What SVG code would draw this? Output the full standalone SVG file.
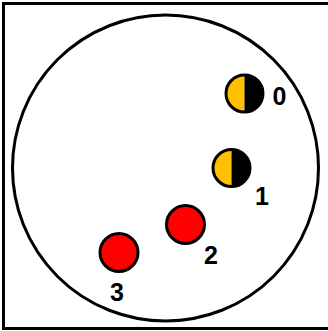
<svg xmlns="http://www.w3.org/2000/svg" width="328" height="331" viewBox="0 0 328 331">
<style>
.ln{fill:none;stroke:#000;stroke-width:3}
.nd{stroke:#000;stroke-width:3}
.red{fill:#FF0000}
.org{fill:#FFC000}
.lbl{font-family:"Liberation Sans",Arial,sans-serif;font-weight:bold;font-size:25px;fill:#000;text-anchor:middle}
</style>
<rect class="ln" x="3.5" y="3.5" width="340" height="325"/>
<circle class="ln" cx="165.5" cy="168" r="153"/>
<g id="connectors"></g>
<g id="node0">
<path class="org" d="M244.5,75 A18.5,18.5 0 0 0 244.5,112 Z"/>
<path d="M244.5,75 A18.5,18.5 0 0 1 244.5,112 Z" fill="#000"/>
<circle class="ln" cx="244.5" cy="93.5" r="18.5"/>
<text class="lbl" x="279.5" y="105">0</text>
</g>
<g id="node1">
<path class="org" d="M231.5,149.5 A18.5,18.5 0 0 0 231.5,186.5 Z"/>
<path d="M231.5,149.5 A18.5,18.5 0 0 1 231.5,186.5 Z" fill="#000"/>
<circle class="ln" cx="231.5" cy="168" r="18.5"/>
<text class="lbl" x="262" y="205">1</text>
</g>
<g id="node2">
<circle class="nd red" cx="185.5" cy="224.5" r="19"/>
<text class="lbl" x="211" y="264">2</text>
</g>
<g id="node3">
<circle class="nd red" cx="119" cy="252.5" r="19"/>
<text class="lbl" x="117" y="301">3</text>
</g>
</svg>
